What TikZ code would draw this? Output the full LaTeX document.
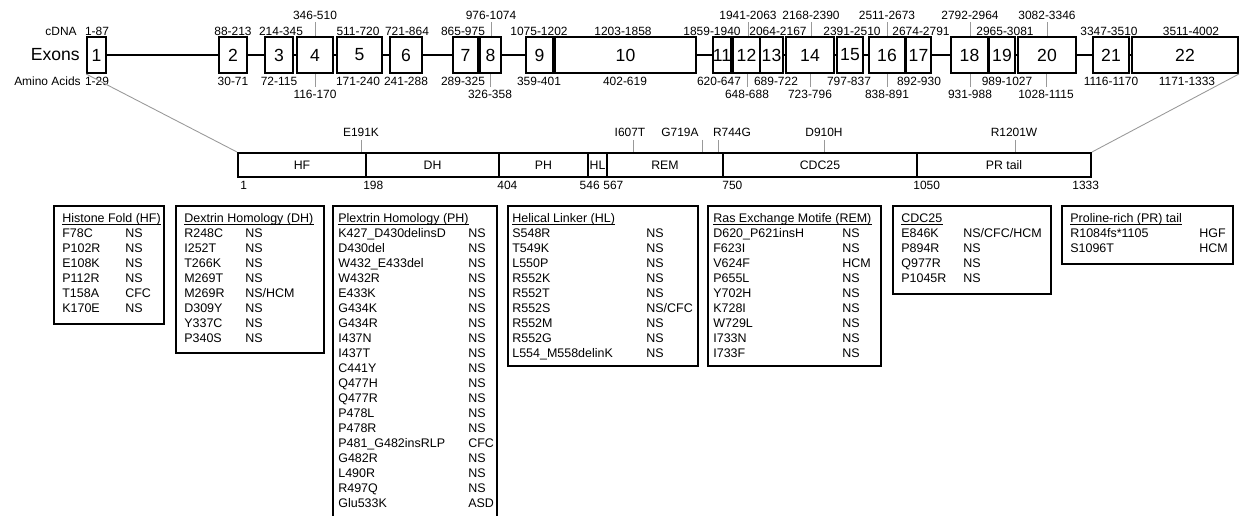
\documentclass[tikz,border=0pt]{standalone}
\usepackage{fontspec}
\setmainfont{Liberation Sans}
\usetikzlibrary{calc, positioning}

\tikzset{
  exon/.style={draw, line width=1.1pt, fill=white, inner sep=0pt, minimum height=0.72cm, font=\fontsize{10}{12}\selectfont},
  lbl/.style={inner sep=0pt, anchor=base, font=\fontsize{6.8}{8}\selectfont},
  tick/.style={gray!80, line width=0.5pt},
  dom/.style={draw, line width=1.1pt, inner sep=0pt, minimum height=0.48cm, font=\fontsize{7}{8}\selectfont},
  mutbox/.style={draw, line width=1.4pt, inner sep=0pt, anchor=north west},
  mut/.style={inner sep=0pt, anchor=base west, font=\fontsize{7.1}{8}\selectfont},
  ttl/.style={mut, append after command={[line width=0.45pt]
    ([yshift=-0.045cm]\tikzlastnode.base west) edge ([yshift=-0.045cm]\tikzlastnode.base east)}},
}

\begin{document}
\begin{tikzpicture}[x=0.02cm, y=-0.02cm]
\useasboundingbox (0,0) rectangle (1244,516);

% exons
\foreach \n/\l/\r in {1/87/106, 2/219/247, 3/265/293, 4/297/333, 5/337/382, 6/390/422,
  7/453/478, 8/480/501, 9/526/553, 10/555/696, 11/713/731, 12/733/760, 13/760/783,
  14/786/834, 15/837/863, 16/869/905, 17/906/931, 18/951/988, 19/989/1015,
  20/1018/1076, 21/1093/1129, 22/1132/1238}{
  \pgfmathsetmacro\w{(\r-\l)*0.02}
  \node[exon, minimum width=\w cm] (e\n) at ({(\l+\r)/2},55) {\n};
}
\foreach \i [evaluate=\i as \j using int(\i+1)] in {1,...,21}
  \draw[line width=1.1pt] (e\i.east) -- (e\j.west);

\node[lbl, anchor=base east] (cdna) at (77,35.5) {cDNA};
\node[inner sep=0pt, anchor=east, font=\fontsize{10}{12}\selectfont] (exons) at (80,55) {Exons};
\node[lbl, anchor=base east] (aa) at (81,85.5) {Amino Acids};

% cDNA positions
\foreach \n/\t/\x in {1/1-87/97, 2/88-213/233, 3/214-345/281, 5/511-720/358, 6/721-864/407,
  7/865-975/463, 9/1075-1202/539, 10/1203-1858/623, 11/1859-1940/712, 13/2064-2167/778,
  15/2391-2510/852, 17/2674-2791/921, 19/2965-3081/1005, 21/3347-3510/1109, 22/3511-4002/1191}
  \node[lbl] (c\n) at (\x,35.5) {\t};
\foreach \n/\t/\x in {4/346-510/315, 8/976-1074/491, 12/1941-2063/748, 14/2168-2390/811,
  16/2511-2673/887, 18/2792-2964/970, 20/3082-3346/1047}{
  \node[lbl] (c\n) at (\x,19.5) {\t};
  \draw[tick] ($(c\n.south)+(0,2.5)$) -- (c\n.south |- e\n.north);
}

% amino acid positions
\foreach \n/\t/\x in {1/1-29/97, 2/30-71/233, 3/72-115/279, 5/171-240/358, 6/241-288/406,
  7/289-325/463, 9/359-401/539, 10/402-619/625, 11/620-647/719, 13/689-722/776,
  15/797-837/849, 17/892-930/919, 19/989-1027/1007, 21/1116-1170/1111, 22/1171-1333/1187}
  \node[lbl] (a\n) at (\x,85.5) {\t};
\foreach \n/\t/\x in {4/116-170/315, 8/326-358/490, 12/648-688/747, 14/723-796/810,
  16/838-891/887, 18/931-988/970, 20/1028-1115/1046}{
  \node[lbl] (a\n) at (\x,98.5) {\t};
  \draw[tick] (a\n.north |- e\n.south) -- ($(a\n.north)+(0,-2.5)$);
}

% protein domains
\foreach \d/\t/\l/\r in {hf/HF/238/366, dh/DH/366/499, ph/PH/499/588, hl/HL/588/607,
  rem/REM/607/723, cdc/CDC25/723/917, pr/PR tail/917/1091}{
  \pgfmathsetmacro\w{(\r-\l)*0.02}
  \node[dom, minimum width=\w cm] (\d) at ({(\l+\r)/2},165) {\t};
}
\draw[tick] (e1.south west) -- (hf.north west);
\draw[tick] (e22.south east) -- (pr.north east);

\node[lbl, anchor=base west] (n1) at (240,190) {1};
\node[lbl, anchor=base west] (n198) at (363,190) {198};
\node[lbl, anchor=base west] (n404) at (497,190) {404};
\node[lbl, anchor=base east] (n546) at (600,190) {546};
\node[lbl, anchor=base west] (n567) at (603,190) {567};
\node[lbl, anchor=base west] (n750) at (722,190) {750};
\node[lbl, anchor=base west] (n1050) at (913,190) {1050};
\node[lbl, anchor=base west] (n1333) at (1072,190) {1333};

% variants on the protein
\foreach \t/\lx/\tx [count=\i] in {E191K/361/361, I607T/630/633, G719A/680/702,
  R744G/732/718, D910H/824/824, R1201W/1014/1015}{
  \node[lbl] (m\i) at (\lx,136.5) {\t};
  \coordinate (t\i) at (\tx,140);
  \draw[tick] (t\i) -- (t\i |- hf.north);
}

% variant tables
\node[mutbox, minimum width=2.2cm, minimum height=2.36cm] (hfbox) at (53,205) {};
\node[ttl] (hft) at (62,222.5) {Histone Fold (HF)};
\foreach \a/\b [count=\i] in {F78C/NS, P102R/NS, E108K/NS, P112R/NS, T158A/CFC, K170E/NS}{
  \node[mut] (hfa\i) at (62,222.5+15*\i) {\a};
  \node[mut] (hfb\i) at (125,222.5+15*\i) {\b};
}

\node[mutbox, minimum width=2.96cm, minimum height=2.94cm] (dhbox) at (175,205) {};
\node[ttl] (dht) at (184,222.5) {Dextrin Homology (DH)};
\foreach \a/\b [count=\i] in {R248C/NS, I252T/NS, T266K/NS, M269T/NS, M269R/{NS/HCM},
  D309Y/NS, Y337C/NS, P340S/NS}{
  \node[mut] (dha\i) at (184,222.5+15*\i) {\a};
  \node[mut] (dhb\i) at (245,222.5+15*\i) {\b};
}

\node[mutbox, minimum width=3.28cm, minimum height=6.8cm] (phbox) at (332,205) {};
\node[ttl] (pht) at (338,222.5) {Plextrin Homology (PH)};
\foreach \a/\b [count=\i] in {K427\_D430delinsD/NS, D430del/NS, W432\_E433del/NS, W432R/NS,
  E433K/NS, G434K/NS, G434R/NS, I437N/NS, I437T/NS, C441Y/NS, Q477H/NS, Q477R/NS,
  P478L/NS, P478R/NS, P481\_G482insRLP/CFC, G482R/NS, L490R/NS, R497Q/NS, Glu533K/ASD}{
  \node[mut] (pha\i) at (338,222.5+15*\i) {\a};
  \node[mut] (phb\i) at (468,222.5+15*\i) {\b};
}

\node[mutbox, minimum width=3.8cm, minimum height=3.2cm] (hlbox) at (507,205) {};
\node[ttl] (hlt) at (512,222.5) {Helical Linker (HL)};
\foreach \a/\b [count=\i] in {S548R/NS, T549K/NS, L550P/NS, R552K/NS, R552T/NS,
  R552S/{NS/CFC}, R552M/NS, R552G/NS, L554\_M558delinK/NS}{
  \node[mut] (hla\i) at (512,222.5+15*\i) {\a};
  \node[mut] (hlb\i) at (646,222.5+15*\i) {\b};
}

\node[mutbox, minimum width=3.46cm, minimum height=3.2cm] (rembox) at (707,205) {};
\node[ttl] (remt) at (713,222.5) {Ras Exchange Motife (REM)};
\foreach \a/\b [count=\i] in {D620\_P621insH/NS, F623I/NS, V624F/HCM, P655L/NS, Y702H/NS,
  K728I/NS, W729L/NS, I733N/NS, I733F/NS}{
  \node[mut] (rema\i) at (713,222.5+15*\i) {\a};
  \node[mut] (remb\i) at (842,222.5+15*\i) {\b};
}

\node[mutbox, minimum width=3.16cm, minimum height=1.76cm] (cdcbox) at (892,205) {};
\node[ttl] (cdct) at (901,222.5) {CDC25};
\foreach \a/\b [count=\i] in {E846K/{NS/CFC/HCM}, P894R/NS, Q977R/NS, P1045R/NS}{
  \node[mut] (cdca\i) at (901,222.5+15*\i) {\a};
  \node[mut] (cdcb\i) at (963,222.5+15*\i) {\b};
}

\node[mutbox, minimum width=3.42cm, minimum height=1.16cm] (prbox) at (1061,205) {};
\node[ttl] (prt) at (1070,222.5) {Proline-rich (PR) tail};
\foreach \a/\b [count=\i] in {R1084fs*1105/HGF, S1096T/HCM}{
  \node[mut] (pra\i) at (1070,222.5+15*\i) {\a};
  \node[mut] (prb\i) at (1199,222.5+15*\i) {\b};
}
\end{tikzpicture}
\end{document}
